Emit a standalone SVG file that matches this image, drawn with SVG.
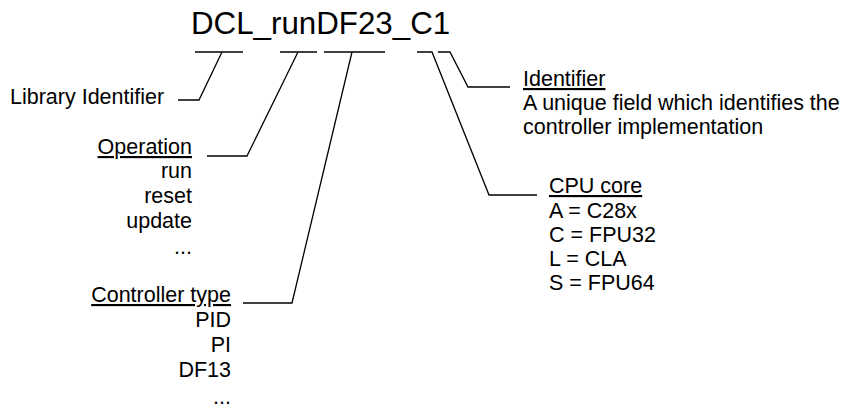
<svg xmlns="http://www.w3.org/2000/svg" width="841" height="409" viewBox="0 0 841 409">
<style>
text{font-family:"Liberation Sans",Arial,sans-serif;fill:#000;font-size:21.5px}
.t{font-size:31.3px}
.r{text-anchor:end}
.u{text-decoration:underline}
.c path{fill:none;stroke:#000;stroke-width:1.3}
</style>
<rect width="841" height="409" fill="#fff"/>
<g id="title"><text class="t" x="191" y="34">DCL_runDF23_C1</text></g>
<g class="c" id="connectors">
<path d="M195 52H243M222 52L199 100H178"/>
<path d="M280 52H317M298 52L247 156H207"/>
<path d="M324 52H385M352 52L292 303H243"/>
<path d="M417 52H432L489 195H537"/>
<path d="M438 52H450L468 87H510"/>
</g>
<g id="library"><text x="10" y="104">Library Identifier</text></g>
<g id="operation">
<text class="r u" x="192" y="154">Operation</text>
<text class="r" x="192" y="178">run</text>
<text class="r" x="192" y="203">reset</text>
<text class="r" x="192" y="228">update</text>
<text class="r" x="192" y="254">...</text>
</g>
<g id="controller">
<text class="r u" x="231" y="302">Controller type</text>
<text class="r" x="231" y="327">PID</text>
<text class="r" x="231" y="352">PI</text>
<text class="r" x="231" y="377">DF13</text>
<text class="r" x="231" y="404">...</text>
</g>
<g id="cpu">
<text class="u" x="549" y="193">CPU core</text>
<text x="549" y="218">A = C28x</text>
<text x="549" y="242">C = FPU32</text>
<text x="549" y="266">L = CLA</text>
<text x="549" y="290">S = FPU64</text>
</g>
<g id="identifier">
<text class="u" x="523" y="86">Identifier</text>
<text x="523" y="110">A unique field which identifies the</text>
<text x="523" y="134">controller implementation</text>
</g>
</svg>
